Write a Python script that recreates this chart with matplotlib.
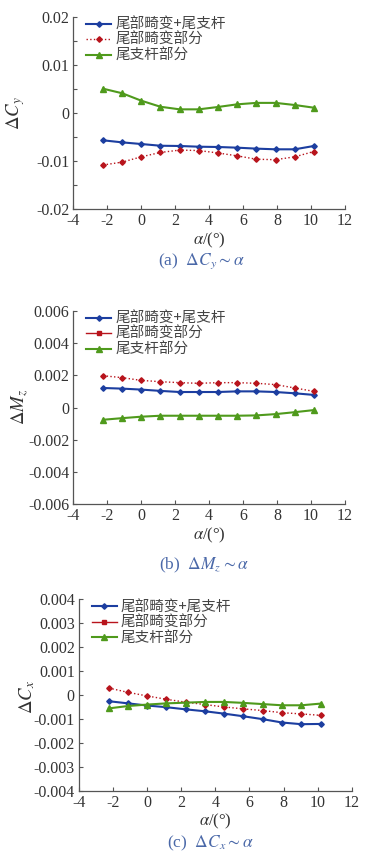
import matplotlib
matplotlib.use("Agg")
import matplotlib.pyplot as plt
from matplotlib.lines import Line2D
from matplotlib.ticker import FixedLocator

plt.rcParams['font.family'] = ['Liberation Serif', 'Noto Sans CJK SC', 'DejaVu Sans']
plt.rcParams['mathtext.fontset'] = 'stix'
plt.rcParams['axes.unicode_minus'] = False

alpha = [-2.25, -1.12, 0.0, 1.13, 2.26, 3.39, 4.52, 5.65, 6.78, 7.91, 9.04, 10.17]
labels = ['尾部畸变+尾支杆', '尾部畸变部分', '尾支杆部分']

cy_total = [-0.00567, -0.0061, -0.00644, -0.0068, -0.00685, -0.0070, -0.00706, -0.0072, -0.0074, -0.00754, -0.00754, -0.00685]
cy_tail = [-0.0108, -0.0102, -0.0091, -0.0082, -0.0077, -0.0078, -0.0083, -0.0089, -0.0096, -0.0097, -0.0091, -0.0080]
cy_sting = [0.00505, 0.0041, 0.00256, 0.0013, 0.00076, 0.00076, 0.00125, 0.0018, 0.0021, 0.0021, 0.00166, 0.0011]

mz_total = [0.00121, 0.00117, 0.00111, 0.00103, 0.00096, 0.00096, 0.00096, 0.0010, 0.0010, 0.00096, 0.00088, 0.00078]
mz_tail = [0.00197, 0.00185, 0.00168, 0.0016, 0.00154, 0.0015, 0.00154, 0.00154, 0.0015, 0.00142, 0.00121, 0.0010]
mz_sting = [-0.00076, -0.00066, -0.00057, -0.00051, -0.00051, -0.00051, -0.00051, -0.00051, -0.00049, -0.00041, -0.00029, -0.00016]

cx_total = [-0.00026, -0.00035, -0.00044, -0.00051, -0.0006, -0.00068, -0.00078, -0.00089, -0.00101, -0.00115, -0.00122, -0.00121]
cx_tail = [0.00029, 0.00011, -0.00004, -0.00018, -0.0003, -0.0004, -0.0005, -0.00058, -0.00065, -0.00074, -0.00079, -0.00085]
cx_sting = [-0.00056, -0.00046, -0.0004, -0.00035, -0.00032, -0.00029, -0.00029, -0.00033, -0.00038, -0.00043, -0.00043, -0.00036]

xticks = [-4, -2, 0, 2, 4, 6, 8, 10, 12]
yt_a = [-0.02, -0.01, 0, 0.01, 0.02]
yl_a = ['-0.02', '-0.01', '0', '0.01', '0.02']
yt_b = [-0.006, -0.004, -0.002, 0, 0.002, 0.004, 0.006]
yl_b = ['-0.006', '-0.004', '-0.002', '0', '0.002', '0.004', '0.006']
yt_c = [-0.004, -0.003, -0.002, -0.001, 0, 0.001, 0.002, 0.003, 0.004]
yl_c = ['-0.004', '-0.003', '-0.002', '-0.001', '0', '0.001', '0.002', '0.003', '0.004']

BLUE = '#1c3ea0'
RED = '#b8141c'
GREEN = '#4f9a1c'
AX = '#555555'
TXT = '#333333'
CAP = '#4a68a8'

fig = plt.figure(figsize=(3.78, 8.6), dpi=100)
W, H = 378.0, 860.0


def make_axes(l, t, r, b):
    return fig.add_axes([l / W, 1 - b / H, (r - l) / W, (b - t) / H])


def style(ax, yt, yl, ylim, minor=None):
    ax.set_xlim(-4, 12)
    ax.set_ylim(*ylim)
    ax.set_xticks(xticks)
    ax.set_xticklabels([str(v) for v in xticks])
    ax.set_yticks(yt)
    ax.set_yticklabels(yl)
    if minor is not None:
        ax.yaxis.set_minor_locator(FixedLocator(minor))
        ax.tick_params(axis='y', which='minor', direction='in', length=3, width=0.8, color=AX)
    for s in ['top', 'right']:
        ax.spines[s].set_visible(False)
    for s in ['left', 'bottom']:
        ax.spines[s].set_color(AX)
        ax.spines[s].set_linewidth(0.9)
    ax.tick_params(which='major', direction='in', length=3, width=0.8, color=AX,
                   labelsize=11.5, labelcolor=TXT, pad=3)


def plot_series(ax, a, b, c, red_dotted_legend):
    ax.plot(alpha, a, color=BLUE, lw=1.5, marker='D', ms=2.8)
    ax.plot(alpha, b, color=RED, lw=1.0, ls=':', marker='D', ms=2.8)
    ax.plot(alpha, c, color=GREEN, lw=1.5, marker='^', ms=4)
    handles = [
        Line2D([], [], color=BLUE, lw=1.5, marker='D', ms=2.8),
        Line2D([], [], color=RED, lw=1.0, ls=':' if red_dotted_legend else '-',
               marker='D' if red_dotted_legend else 's', ms=2.8),
        Line2D([], [], color=GREEN, lw=1.5, marker='^', ms=4),
    ]
    leg = ax.legend(handles, labels, loc='upper left', bbox_to_anchor=(0.015, 1.04),
                    frameon=False, handlelength=1.7, handletextpad=0.3,
                    labelspacing=0.1, borderaxespad=0.2,
                    prop={'family': ['Noto Sans CJK SC'], 'size': 10.5})
    for t in leg.get_texts():
        t.set_color('#444444')


# (a)
ax1 = make_axes(73.3, 16.7, 345, 209.3)
plot_series(ax1, cy_total, cy_tail, cy_sting, True)
style(ax1, yt_a, yl_a, (-0.02, 0.02), minor=[-0.015, -0.005, 0.005, 0.015])

# (b)
ax2 = make_axes(73.3, 310.7, 345, 504.3)
plot_series(ax2, mz_total, mz_tail, mz_sting, False)
style(ax2, yt_b, yl_b, (-0.006, 0.006))

# (c)
ax3 = make_axes(79, 599.3, 351.7, 790.7)
plot_series(ax3, cx_total, cx_tail, cx_sting, False)
style(ax3, yt_c, yl_c, (-0.004, 0.004))

# axis labels and captions
def ftext(x, y, s, **kw):
    fig.text(x / W, 1 - y / H, s, ha='center', va='center', **kw)

ftext(209, 240, r'$\alpha$/(°)', fontsize=12, color=TXT)
ftext(209, 535, r'$\alpha$/(°)', fontsize=12, color=TXT)
ftext(215, 821, r'$\alpha$/(°)', fontsize=12, color=TXT)

ftext(16, 113, r'$\Delta C_y$', fontsize=13.5, color=TXT, rotation=90)
ftext(20, 407, r'$\Delta M_z$', fontsize=13.5, color=TXT, rotation=90)
ftext(27, 697, r'$\Delta C_x$', fontsize=13.5, color=TXT, rotation=90)

ftext(201, 261, r'(a)  $\Delta C_y \sim \alpha$', fontsize=12.5, color=CAP)
ftext(204, 565, r'(b)  $\Delta M_z \sim \alpha$', fontsize=12.5, color=CAP)
ftext(210, 843, r'(c)  $\Delta C_x \sim \alpha$', fontsize=12.5, color=CAP)

fig.savefig('out.png', dpi=100)
